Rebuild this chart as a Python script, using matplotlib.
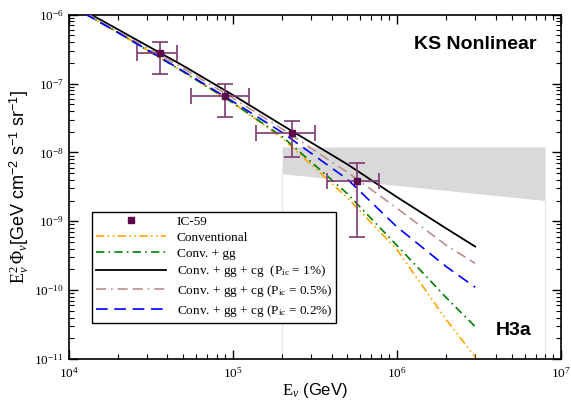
import numpy as np
import matplotlib
matplotlib.use("Agg")
import matplotlib.pyplot as plt

plt.rcParams['font.family'] = ['Liberation Serif', 'DejaVu Serif']
plt.rcParams['mathtext.fontset'] = 'custom'
plt.rcParams['mathtext.rm'] = 'Liberation Serif'
plt.rcParams['mathtext.it'] = 'Liberation Serif:italic'
plt.rcParams['mathtext.sf'] = 'Liberation Sans'

# model curves, E^2 Phi vs E
energy = [1e4, 2e4, 5e4, 1e5, 2e5, 5e5, 1e6, 2e6, 3e6]
conv = [1.41e-6, 5.5e-7, 1.48e-7, 5.25e-8, 1.62e-8, 2.19e-9, 3.89e-10, 3.72e-11, 1.07e-11]
conv_gg = [1.41e-6, 5.5e-7, 1.48e-7, 5.25e-8, 1.70e-8, 2.51e-9, 4.47e-10, 7.76e-11, 2.95e-11]
cg_1 = [1.52e-6, 6.1e-7, 1.81e-7, 6.84e-8, 2.49e-8, 6.71e-9, 2.25e-9, 7.85e-10, 4.29e-10]
cg_05 = [1.45e-6, 5.75e-7, 1.66e-7, 6.17e-8, 2.19e-8, 5.13e-9, 1.55e-9, 4.47e-10, 2.45e-10]
cg_02 = [1.41e-6, 5.5e-7, 1.51e-7, 5.5e-8, 1.95e-8, 4.07e-9, 8.3e-10, 2.19e-10, 1.1e-10]

# IC-59 points
ic_e = [3.63e4, 9.04e4, 2.29e5, 5.73e5]
ic_e_lo = [2.61e4, 5.58e4, 1.39e5, 3.74e5]
ic_e_hi = [4.59e4, 1.25e5, 3.16e5, 7.76e5]
ic_f = [2.77e-7, 6.49e-8, 1.91e-8, 3.78e-9]
ic_f_lo = [1.39e-7, 3.26e-8, 8.55e-9, 6.0e-10]
ic_f_hi = [4.01e-7, 9.84e-8, 2.81e-8, 6.98e-9]

# grey band
band_e = [2e5, 8e6]
band_top = [1.2e-8, 1.2e-8]
band_bot = [4.9e-9, 2.0e-9]

fig = plt.figure(figsize=(5.71, 4.07), dpi=100)
ax = fig.add_axes([0.12, 0.118, 0.8625, 0.846])

ax.fill_between(band_e, band_bot, band_top, color='#d9d9d9', lw=0, zorder=1)
for e, b in zip(band_e, band_bot):
    ax.plot([e, e], [1e-11, b], color='#e6e6e6', lw=0.8, zorder=1)

xerr = [np.array(ic_e) - np.array(ic_e_lo), np.array(ic_e_hi) - np.array(ic_e)]
yerr = [np.array(ic_f) - np.array(ic_f_lo), np.array(ic_f_hi) - np.array(ic_f)]
ax.errorbar(ic_e, ic_f, xerr=xerr, yerr=yerr, fmt='none', ecolor='#7d3a72',
            elinewidth=1.2, capsize=6, capthick=1.2, zorder=4)
ax.plot(ic_e, ic_f, 's', color='#5c0a4a', ms=5, zorder=5, label='IC-59')

ax.plot(energy, conv, color='#ffa500', lw=1.2, dashes=(5, 2, 1, 2, 1, 2), label='Conventional', zorder=3)
ax.plot(energy, conv_gg, color='#008000', lw=1.2, dashes=(5, 2.5, 1, 2.5), label='Conv. + gg', zorder=3)
ax.plot(energy, cg_1, color='black', lw=1.3, label='Conv. + gg + cg  (P$_{\\mathrm{ic}}$ = 1%)', zorder=3)
ax.plot(energy, cg_05, color='#bc8f8f', lw=1.2, dashes=(6, 3, 1, 3, 6, 3), label='Conv. + gg + cg (P$_{\\mathrm{ic}}$ = 0.5%)', zorder=3)
ax.plot(energy, cg_02, color='#0000ff', lw=1.2, dashes=(7, 4), label='Conv. + gg + cg (P$_{\\mathrm{ic}}$ = 0.2%)', zorder=3)

ax.set_xscale('log')
ax.set_yscale('log')
ax.set_xlim(1e4, 1e7)
ax.set_ylim(1e-11, 1e-6)

ax.tick_params(which='both', direction='in', top=True, right=True, labelsize=9.5)
ax.tick_params(which='major', length=6.5, width=1)
ax.tick_params(which='minor', length=3.5, width=0.8)
ax.tick_params(axis='x', pad=5)
for s in ax.spines.values():
    s.set_linewidth(1.2)

ax.set_xlabel(r'$\mathrm{E}_\nu$ (GeV)', family='Liberation Sans', fontsize=12, labelpad=0)
ax.set_ylabel(r'$\mathrm{E}^2_\nu\,\mathrm{\Phi}_\nu$[GeV cm$^{\mathsf{-2}}$ s$^{\mathsf{-1}}$ sr$^{\mathsf{-1}}$]',
              family='Liberation Sans', fontsize=13, labelpad=2)

ax.text(0.951, 0.913, 'KS Nonlinear', transform=ax.transAxes, ha='right', va='center',
        family='Liberation Sans', fontweight='bold', fontsize=14)
ax.text(0.941, 0.084, 'H3a', transform=ax.transAxes, ha='right', va='center',
        family='Liberation Sans', fontweight='bold', fontsize=14)

leg = ax.legend(loc='upper left', bbox_to_anchor=(0.048, 0.428), fontsize=9.5,
                handlelength=5.3, handletextpad=0.8, labelspacing=0.28,
                borderpad=0.3, fancybox=False, framealpha=1, borderaxespad=0)
leg.get_frame().set_edgecolor('black')
leg.get_frame().set_linewidth(1.0)

fig.savefig('out.png', dpi=100)
